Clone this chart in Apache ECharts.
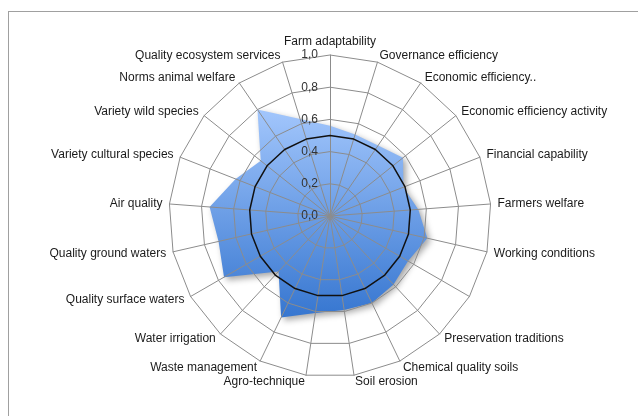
<!DOCTYPE html>
<html>
<head>
<meta charset="utf-8">
<script src="https://cdn.jsdelivr.net/npm/echarts@6/dist/echarts.min.js"></script>
<style>
  html, body { margin: 0; padding: 0; background: #fff; }
  #chart { width: 638px; height: 416px; }
  .frame { position: absolute; left: 8px; top: 11px; width: 640px; height: 420px; border: 1px solid #a0a0a0; pointer-events: none; }
</style>
</head>
<body>
<div id="chart"></div>
<div class="frame"></div>
<script>
// indicators, clockwise from the top
const indicators = [
  'Farm adaptability', 'Governance efficiency', 'Economic efficiency..',
  'Economic efficiency activity', 'Financial capability', 'Farmers welfare',
  'Working conditions', '', 'Preservation traditions', 'Chemical quality soils',
  'Soil erosion', 'Agro-technique', 'Waste management', 'Water irrigation',
  'Quality surface waters', 'Quality ground waters', 'Air quality',
  'Variety cultural species', 'Variety wild species', 'Norms animal welfare',
  'Quality ecosystem services'
];
const scores = [
  0.56, 0.53, 0.53, 0.58, 0.49, 0.55, 0.62, 0.56, 0.58, 0.60,
  0.59, 0.61, 0.70, 0.47, 0.76, 0.71, 0.75, 0.63, 0.55, 0.80, 0.63
];
const threshold = 0.5;
const ticks = [0, 0.2, 0.4, 0.6, 0.8, 1.0];

// echarts lays radar indicators out counter-clockwise, so flip the order
const ccw = arr => [arr[0]].concat(arr.slice(1).reverse());

const chart = echarts.init(document.getElementById('chart'));
const font = 'Liberation Sans, Arial, sans-serif';
const gridLine = { lineStyle: { color: '#8c8c8c', width: 1 } };

const radarBase = {
  center: [330, 216],
  radius: 161,
  shape: 'polygon',
  splitNumber: 5,
  splitArea: { show: false },
  axisLabel: { show: false },
  axisTick: { show: false }
};

chart.setOption({
  animation: false,
  grid: { left: 330, top: 55, width: 1, height: 161 },
  xAxis: { type: 'value', show: false },
  yAxis: {
    type: 'value', min: ticks[0], max: ticks[ticks.length - 1], interval: 0.2,
    z: 20,
    axisLine: { show: false }, axisTick: { show: false }, splitLine: { show: false },
    axisLabel: {
      margin: 12, color: '#333', fontSize: 12, fontFamily: font,
      formatter: v => v.toFixed(1).replace('.', ',')
    }
  },
  radar: [
    Object.assign({}, radarBase, {
      z: 0,
      indicator: ccw(indicators).map(n => ({ name: n, min: 0, max: 1 })),
      axisName: { color: '#1a1a1a', fontSize: 12, fontFamily: font },
      nameGap: 7,
      axisLine: { show: false },
      splitLine: { show: false }
    }),
    Object.assign({}, radarBase, {
      z: 5,
      indicator: indicators.map(() => ({ name: '', min: 0, max: 1 })),
      axisName: { show: false },
      axisLine: gridLine,
      splitLine: gridLine
    })
  ],
  series: [{
    type: 'radar',
    radarIndex: 0,
    z: 2,
    symbol: 'none',
    lineStyle: { width: 0 },
    areaStyle: {
      opacity: 1,
      color: new echarts.graphic.LinearGradient(0, 0, 0, 1, [
        { offset: 0, color: '#a2c6fc' },
        { offset: 1, color: '#3676d0' }
      ]),
      shadowColor: 'rgba(0,0,0,0.35)', shadowBlur: 6, shadowOffsetX: 3, shadowOffsetY: 3
    },
    data: [{ value: ccw(scores) }]
  }, {
    type: 'radar',
    radarIndex: 1,
    z: 10,
    symbol: 'none',
    lineStyle: { color: '#111', width: 1.5 },
    data: [{ value: indicators.map(() => threshold) }]
  }]
});
</script>
</body>
</html>
